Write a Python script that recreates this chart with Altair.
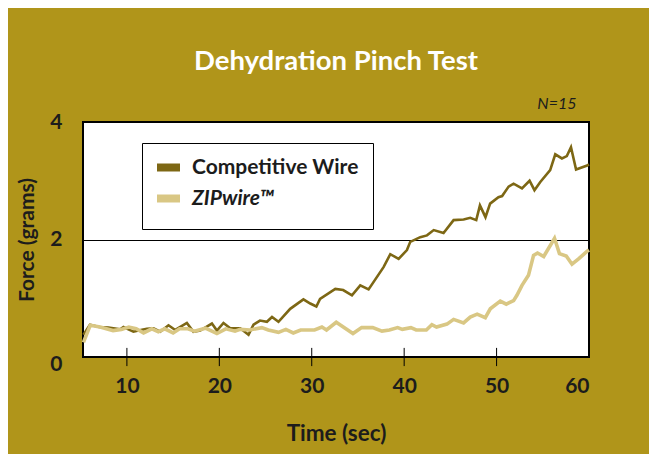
import altair as alt
import pandas as pd

# ---- data ----
comp_t = [5.3, 6.0, 7.0, 8.0, 9.27, 9.63, 10.71, 11.5, 12.16, 12.88, 13.6, 14.5, 15.23,
          16.49, 17.2, 17.93, 19.2, 19.74, 20.45, 21.18, 22.26, 23.16, 23.7, 24.4, 25.15,
          25.7, 26.4, 27.67, 29.1, 29.84, 30.5, 30.9, 32.55, 33.4, 34.35, 35.25, 36.15,
          37.77, 38.5, 39.4, 40.3, 40.66, 41.74, 42.47, 43.2, 44.26, 45.35, 46.43, 47.15,
          47.8, 48.2, 48.8, 49.3, 50.2, 50.6, 51.3, 51.84, 52.75, 53.57, 54.1, 54.73, 55.8,
          56.35, 57.07, 57.6, 58.05, 58.6, 59.8, 60.0]
comp_f = [0.38, 0.55, 0.51, 0.50, 0.47, 0.51, 0.43, 0.46, 0.48, 0.49, 0.43, 0.54, 0.46,
          0.58, 0.43, 0.45, 0.57, 0.45, 0.58, 0.49, 0.49, 0.38, 0.55, 0.62, 0.60,
          0.68, 0.60, 0.82, 0.98, 0.91, 0.86, 0.99, 1.16, 1.14, 1.05, 1.22, 1.15,
          1.53, 1.75, 1.67, 1.82, 1.96, 2.04, 2.07, 2.16, 2.11, 2.33, 2.34, 2.37,
          2.33, 2.58, 2.38, 2.61, 2.72, 2.74, 2.90, 2.95, 2.87, 3.00, 2.84, 2.98, 3.18,
          3.45, 3.38, 3.42, 3.57, 3.19, 3.26, 3.28]

zip_t = [5.3, 6.03, 7.1, 8.5, 9.4, 10.2, 11.0, 11.8, 12.7, 13.4, 14.1, 15.0, 15.7, 16.6,
         17.3, 18.5, 19.74, 20.7, 21.7, 22.26, 23.3, 24.6, 25.3, 26.4, 27.2, 28.0, 28.8,
         30.3, 31.1, 31.6, 32.65, 34.46, 35.4, 36.6, 37.6, 38.4, 39.3, 39.8, 40.73, 41.3,
         42.4, 43.0, 43.5, 44.63, 45.35, 46.43, 47.15, 47.9, 48.78, 49.32, 50.4, 51.05,
         51.84, 52.2, 52.75, 53.45, 54.0, 54.43, 55.1, 56.27, 56.8, 57.54, 58.16, 58.87,
         59.8, 60.0]
zip_f = [0.25, 0.54, 0.51, 0.45, 0.47, 0.51, 0.48, 0.41, 0.48, 0.43, 0.48, 0.41, 0.48, 0.48,
         0.44, 0.49, 0.40, 0.48, 0.44, 0.47, 0.46, 0.50, 0.46, 0.42, 0.47, 0.41, 0.46,
         0.46, 0.51, 0.46, 0.59, 0.40, 0.50, 0.50, 0.44, 0.46, 0.50, 0.47, 0.50, 0.46,
         0.46, 0.55, 0.51, 0.56, 0.64, 0.58, 0.68, 0.73, 0.67, 0.82, 0.95, 0.90,
         0.96, 1.05, 1.22, 1.39, 1.73, 1.77, 1.71, 2.02, 1.76, 1.72, 1.58, 1.67,
         1.80, 1.82]

series_names = ["Competitive Wire", "ZIPwire™"]
series_colors = ["#7D6714", "#D9C784"]
x_ticks = [10, 20, 30, 40, 50, 60]
y_ticks = [0, 2, 4]

comp_df = pd.DataFrame({"t": comp_t, "force": comp_f, "series": series_names[0]})
zip_df = pd.DataFrame({"t": zip_t, "force": zip_f, "series": series_names[1]})
tick_df = pd.DataFrame({"t": x_ticks[:-1]})

FONT = "Lato"
TXT = "#1c1c1c"
FS = 21

color_scale = alt.Scale(domain=series_names, range=series_colors)
legend = alt.Legend(
    title=None, orient="none", legendX=59, legendY=21,
    fillColor="white", strokeColor="black", padding=14,
    symbolType="M-2,0L2,0", symbolSize=132, symbolStrokeWidth=8, symbolOffset=2,
    labelFont=FONT, labelFontSize=FS, labelFontWeight="bold", labelColor=TXT,
    labelFontStyle=alt.ExprRef("datum.value == 'ZIPwire™' ? 'italic' : 'normal'"),
    labelOffset=13, rowPadding=-2, labelLimit=300,
)

x_scale = alt.Scale(domain=[5.25, 60], nice=False, zero=False)
y_scale = alt.Scale(domain=[0, 4], nice=False)

y_axis = alt.Axis(
    title="Force (grams)", values=y_ticks, format="d", domain=False, ticks=False,
    grid=True, gridColor="black", gridWidth=1, gridOpacity=1,
    labelFont=FONT, labelFontSize=FS, labelFontWeight="bold", labelColor=TXT,
    labelOffset=alt.condition("datum.value == 0", alt.value(7), alt.value(0)),
    labelPadding=21, titleFont=FONT, titleFontSize=FS, titleFontWeight="bold",
    titleColor=TXT, titlePadding=12)

x_axis = alt.Axis(
    title="Time (sec)", values=x_ticks, format="d", domain=False, grid=False, ticks=False,
    labelFont=FONT, labelFontSize=FS, labelFontWeight="bold", labelColor=TXT,
    labelPadding=18, titleFont=FONT, titleFontSize=22.5, titleFontWeight="bold",
    titleColor=TXT, titlePadding=26)

comp = alt.Chart(comp_df).mark_line(strokeWidth=2.6).encode(
    x=alt.X("t:Q", scale=x_scale, axis=x_axis),
    y=alt.Y("force:Q", scale=y_scale, axis=y_axis),
    color=alt.Color("series:N", scale=color_scale, legend=legend),
)

zipw = alt.Chart(zip_df).mark_line(strokeWidth=3.6).encode(
    x=alt.X("t:Q", scale=x_scale, axis=alt.Axis(
        orient="top", title="N=15", labels=False, ticks=False, domain=False, grid=False,
        titleX=493, titleY=-14, titleAlign="right", titleBaseline="alphabetic",
        titleFont=FONT, titleFontSize=16, titleFontStyle="italic",
        titleFontWeight="normal", titleColor=TXT)),
    y=alt.Y("force:Q", scale=y_scale, axis=y_axis),
    color=alt.Color("series:N", scale=color_scale, legend=legend),
)

# tick marks crossing the bottom border, placed through the x and y scales
ticks = alt.Chart(tick_df).mark_rule(color="black", strokeWidth=1).encode(
    x=alt.X("t:Q", scale=x_scale, axis=None),
    y=alt.Y(datum=-0.155, axis=y_axis),
    y2=alt.datum(0.155),
)

chart = alt.layer(comp, zipw, ticks).resolve_scale(x="independent").resolve_axis(
    x="independent"
).properties(
    width=506, height=235,
    autosize=alt.AutoSizeParams(type="none"),
    padding={"left": 75, "top": 114, "right": 60, "bottom": 97},
    background="#B0951A",
    title=alt.TitleParams(
        "Dehydration Pinch Test", anchor="middle", frame="group",
        font=FONT, fontSize=27.5, fontWeight="bold", color="white",
        offset=20,
    ),
).configure_view(
    fill="white", stroke="black", strokeWidth=2
)

chart.save("out.html", embed_options={"renderer": "svg", "actions": False})
